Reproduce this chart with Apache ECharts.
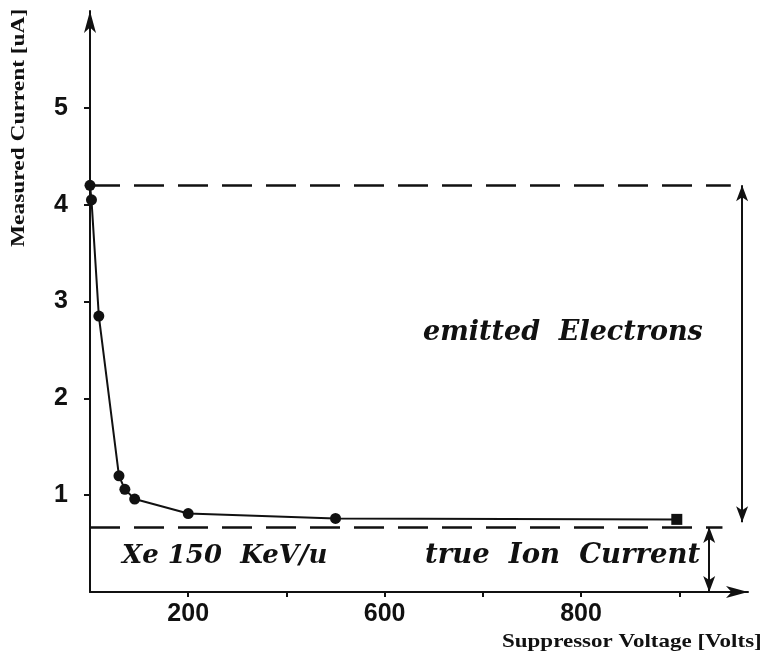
<!DOCTYPE html>
<html><head><meta charset="utf-8">
<script src="https://cdn.jsdelivr.net/npm/echarts@6/dist/echarts.min.js"></script>
<style>html,body{margin:0;padding:0;background:#fff}#c{width:762px;height:663px}</style>
</head><body><div id="c"></div>
<script>
// Data
const voltage = [0, 3, 18, 59, 71, 91, 200, 500, 1195];
const current = [4.2, 4.05, 2.85, 1.2, 1.06, 0.96, 0.81, 0.76, 0.75];
const xTickValues = [200, 400, 600, 800, 1000, 1200];
const xTickLabels = {200: '200', 600: '600', 1000: '800'};
const yTickValues = [1, 2, 3, 4, 5];
const emittedLevel = 4.2;
const ionLevel = 0.67;

const chart = echarts.init(document.getElementById('c'));
const markers = voltage.map((v, i) => ({
  value: [v, current[i]],
  symbol: i === voltage.length - 1 ? 'rect' : 'circle'
}));
const ink = '#111';
chart.setOption({
  backgroundColor: '#fff',
  animation: false,
  grid: {left: 90, right: 14, top: 11, bottom: 71},
  xAxis: {
    type: 'value', min: 0, max: 1340, interval: 200,
    splitLine: {show: false},
    axisLine: {lineStyle: {color: ink, width: 2}, symbol: ['none', 'arrow'], symbolSize: [9, 22]},
    axisTick: {show: true, customValues: xTickValues, length: 5, lineStyle: {color: ink, width: 2}},
    axisLabel: {
      customValues: xTickValues,
      margin: 10, color: ink, fontFamily: 'Liberation Sans', fontWeight: 'bold', fontSize: 25,
      formatter: v => xTickLabels[v] || ''
    }
  },
  yAxis: {
    type: 'value', min: 0, max: 6, interval: 1,
    splitLine: {show: false},
    axisLine: {lineStyle: {color: ink, width: 2}, symbol: ['none', 'arrow'], symbolSize: [9, 22]},
    axisTick: {show: true, customValues: yTickValues, length: 6, lineStyle: {color: ink, width: 2}},
    axisLabel: {
      customValues: yTickValues,
      margin: 22, color: ink, fontFamily: 'Liberation Sans', fontWeight: 'bold', fontSize: 25
    }
  },
  series: [
    {
      type: 'line', data: markers, symbolSize: 11,
      lineStyle: {color: ink, width: 2}, itemStyle: {color: ink},
      markLine: {
        silent: true, symbol: 'none', label: {show: false},
        lineStyle: {color: ink, width: 2.5, type: [30, 14]},
        data: [
          [{coord: [0, emittedLevel]}, {coord: [1305, emittedLevel]}],
          [{coord: [0, ionLevel]}, {coord: [1288, ionLevel]}]
        ]
      }
    },
    {
      type: 'line', data: [], silent: true,
      markLine: {
        silent: true, symbol: ['arrow', 'arrow'], symbolSize: [9, 16], label: {show: false},
        lineStyle: {color: ink, width: 2, type: 'solid'},
        data: [
          [{coord: [1328, emittedLevel]}, {coord: [1328, 0.72]}],
          [{coord: [1261, ionLevel]}, {coord: [1261, 0]}]
        ]
      }
    }
  ],
  graphic: [
    {type: 'text', left: 423, top: 319, style: {text: 'emitted  Electrons', font: 'italic bold 27px "DejaVu Serif"', fill: ink}},
    {type: 'text', left: 122, top: 543, style: {text: 'Xe 150  KeV/u', font: 'italic bold 26px "DejaVu Serif"', fill: ink}},
    {type: 'text', left: 425, top: 542, style: {text: 'true  Ion  Current', font: 'italic bold 27.5px "DejaVu Serif"', fill: ink}},
    {type: 'text', x: 502, y: 642, scaleX: 1.21, style: {text: 'Suppressor Voltage [Volts]', font: 'bold 19px "Liberation Serif"', fill: ink, verticalAlign: 'middle'}},
    {type: 'text', x: 19, y: 247, rotation: Math.PI / 2, scaleX: 1.3, style: {text: 'Measured Current [uA]', font: 'bold 18px "Liberation Serif"', fill: ink, verticalAlign: 'middle'}}
  ]
});
</script></body></html>
